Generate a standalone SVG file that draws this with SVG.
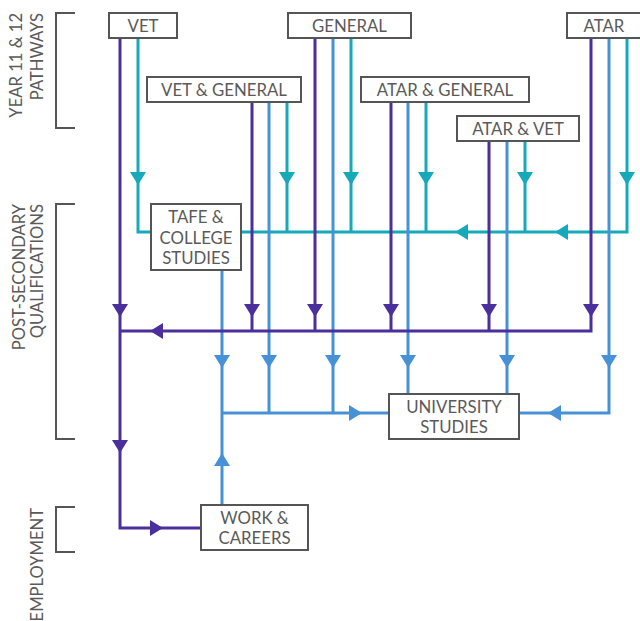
<svg xmlns="http://www.w3.org/2000/svg" xmlns:xlink="http://www.w3.org/1999/xlink" width="640" height="621" viewBox="0 0 640 621">
<style>
.box{fill:#fff;stroke:#555;stroke-width:2}
.t{font-family:Lato,"Open Sans","Liberation Sans",sans-serif;font-size:16.8px;fill:#5a5a5a;text-anchor:middle}
.lab{font-family:Lato,"Open Sans","Liberation Sans",sans-serif;font-size:16.6px;fill:#5a5a5a;text-anchor:end}
.br{fill:none;stroke:#555;stroke-width:2}
.p{fill:none;stroke:#4b2f9c;stroke-width:3}
.c{fill:none;stroke:#16a9b9;stroke-width:3}
.b{fill:none;stroke:#4791d6;stroke-width:3}
.pf{fill:#4b2f9c}.cf{fill:#16a9b9}.bf{fill:#4791d6}
</style>
<defs>
<polygon id="ad" points="0,0 -8,-13 8,-13"/>
</defs>
<g id="labels">
<path class="br" d="M75,13 H56 V128 H75"/>
<path class="br" d="M75,204 H56 V439 H75"/>
<path class="br" d="M75,507 H56 V552 H75"/>
<text class="lab" transform="translate(22,13) rotate(-90)">YEAR 11 &amp; 12</text>
<text class="lab" transform="translate(43,13) rotate(-90)">PATHWAYS</text>
<text class="lab" transform="translate(25,204) rotate(-90)">POST-SECONDARY</text>
<text class="lab" transform="translate(43,204) rotate(-90)">QUALIFICATIONS</text>
<text class="lab" transform="translate(43,508) rotate(-90)">EMPLOYMENT</text>
</g>
<g id="connectors">
<path class="c" d="M138,38 V232 H627 V38"/>
<path class="c" d="M287,102 V232 M351,38 V232 M426,102 V232 M525,141 V232"/>
<path class="b" d="M222,270 V505 M222,413 H389"/>
<path class="b" d="M269,102 V413 M333,38 V413 M408,102 V394 M507,141 V394"/>
<path class="b" d="M609,38 V413 H519"/>
<path class="p" d="M120,38 V528 H201"/>
<path class="p" d="M120,331 H591 V38"/>
<path class="p" d="M252,102 V331 M315,38 V331 M391,102 V331 M489,141 V331"/>
<g class="cf">
<use xlink:href="#ad" x="138" y="185"/>
<use xlink:href="#ad" x="287" y="185"/>
<use xlink:href="#ad" x="351" y="185"/>
<use xlink:href="#ad" x="426" y="185"/>
<use xlink:href="#ad" x="525" y="185"/>
<use xlink:href="#ad" x="627" y="185"/>
<use xlink:href="#ad" transform="translate(455,232) rotate(90)"/>
<use xlink:href="#ad" transform="translate(555,232) rotate(90)"/>
</g>
<g class="bf">
<use xlink:href="#ad" x="222" y="368"/>
<use xlink:href="#ad" x="269" y="368"/>
<use xlink:href="#ad" x="333" y="368"/>
<use xlink:href="#ad" x="408" y="368"/>
<use xlink:href="#ad" x="507" y="368"/>
<use xlink:href="#ad" x="609" y="368"/>
<use xlink:href="#ad" transform="translate(222,453) rotate(180)"/>
<use xlink:href="#ad" transform="translate(362,413) rotate(-90)"/>
<use xlink:href="#ad" transform="translate(548,413) rotate(90)"/>
</g>
<g class="pf">
<use xlink:href="#ad" x="120" y="317"/>
<use xlink:href="#ad" x="252" y="317"/>
<use xlink:href="#ad" x="315" y="317"/>
<use xlink:href="#ad" x="391" y="317"/>
<use xlink:href="#ad" x="489" y="317"/>
<use xlink:href="#ad" x="591" y="317"/>
<use xlink:href="#ad" x="120" y="453"/>
<use xlink:href="#ad" transform="translate(150,331) rotate(90)"/>
<use xlink:href="#ad" transform="translate(163,528) rotate(-90)"/>
</g>
</g>
<g id="vet"><rect class="box" x="109" y="13" width="68" height="25"/><text class="t" x="143" y="31.5">VET</text></g>
<g id="general"><rect class="box" x="288" y="13" width="123" height="25"/><text class="t" x="349.5" y="31.5">GENERAL</text></g>
<g id="atar"><rect class="box" x="567" y="13" width="76" height="25"/><text class="t" x="604" y="31.5">ATAR</text></g>
<g id="vet-general"><rect class="box" x="147" y="77" width="154" height="25"/><text class="t" x="224" y="95.5">VET &amp; GENERAL</text></g>
<g id="atar-general"><rect class="box" x="361" y="77" width="168" height="25"/><text class="t" x="445" y="95.5">ATAR &amp; GENERAL</text></g>
<g id="atar-vet"><rect class="box" x="457" y="116" width="122" height="25"/><text class="t" x="518" y="134.5">ATAR &amp; VET</text></g>
<g id="tafe"><rect class="box" x="151" y="204" width="90" height="66"/><text class="t" x="196" y="223">TAFE &amp;</text><text class="t" x="196" y="243.5">COLLEGE</text><text class="t" x="196" y="263.5">STUDIES</text></g>
<g id="university"><rect class="box" x="389" y="394" width="130" height="45"/><text class="t" x="454" y="413">UNIVERSITY</text><text class="t" x="454" y="433">STUDIES</text></g>
<g id="work"><rect class="box" x="201" y="505" width="107" height="45"/><text class="t" x="254.5" y="523.5">WORK &amp;</text><text class="t" x="254.5" y="543.5">CAREERS</text></g>
</svg>
